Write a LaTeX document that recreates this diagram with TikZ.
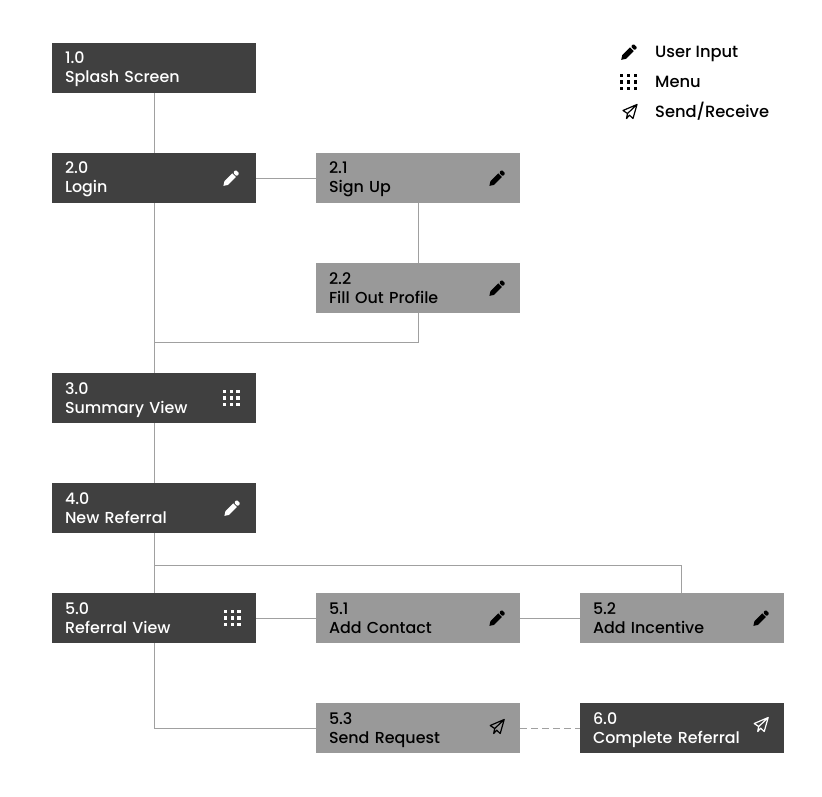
\documentclass[tikz,border=0pt]{standalone}
\usepackage{fontspec}
\setmainfont{Poppins}[UprightFont=*-Medium]
\definecolor{boxdark}{HTML}{404040}
\definecolor{boxlight}{HTML}{999999}
\definecolor{linkgray}{HTML}{A0A0A0}
\tikzset{
  screen/.style={minimum width=204pt,minimum height=50pt,inner xsep=13pt,inner ysep=0pt,
    text width=178pt,align=left,font=\fontsize{15.9}{19}\selectfont,
    execute at begin node={\rule{0pt}{16pt}},
    execute at end node={\rule[-5pt]{0pt}{5pt}}},
  darkscreen/.style={screen,fill=boxdark,text=white},
  lightscreen/.style={screen,fill=boxlight,text=black},
  link/.style={draw=linkgray,line width=0.9pt},
  legendtext/.style={anchor=base west,inner sep=0pt,font=\fontsize{16.3}{18}\selectfont},
  pics/penicon/.style={code={
    \begin{scope}[shift={(-0.7,0.8)},rotate=45]
    \fill[pic actions] (-10,0) -- (-6,-2.6) -- (5,-2.6) -- (5,2.6) -- (-6,2.6) -- cycle;
    \fill[pic actions,rounded corners=1pt] (6.2,-2.6) -- (10,-2.6) -- (10,2.6) -- (6.2,2.6) -- cycle;
    \end{scope}}},
  pics/menuicon/.style={code={
    \foreach \i in {-1,0,1}
      \foreach \j in {-1,0,1}
        \fill[pic actions] (\i*6.7-1.6,\j*6.7-1.6) rectangle ++(3.2,3.2);}},
  pics/planeicon/.style={code={
    \draw[pic actions,line width=1.2pt,line join=round]
      (7,-7.5) -- (-7,-1.5) -- (-2.5,1.5) -- (7,-7.5) -- (3,6.5) -- (-0.5,3.2) -- (-3.5,6.5) -- (-2.5,1.5);}}
}
\begin{document}
\begin{tikzpicture}[x=1pt,y=-1pt]
\useasboundingbox (0,0) rectangle (822,797);

\node[darkscreen] (n10) at (154,68) {1.0\\Splash Screen};
\node[darkscreen] (n20) at (154,178) {2.0\\Login};
\node[lightscreen] (n21) at (418,178) {2.1\\Sign Up};
\node[lightscreen] (n22) at (418,288) {2.2\\Fill Out Profile};
\node[darkscreen] (n30) at (154,398) {3.0\\Summary View};
\node[darkscreen] (n40) at (154,508) {4.0\\New Referral};
\node[darkscreen] (n50) at (154,618) {5.0\\Referral View};
\node[lightscreen] (n51) at (418,618) {5.1\\Add Contact};
\node[lightscreen] (n52) at (682,618) {5.2\\Add Incentive};
\node[lightscreen] (n53) at (418,728) {5.3\\Send Request};
\node[darkscreen] (n60) at (682,728) {6.0\\Complete Referral};

\coordinate (join22) at (154,342);
\coordinate (join40) at (154,565.5);

\draw[link] (n10) -- (n20);
\draw[link] (n20) -- (n21);
\draw[link] (n21) -- (n22);
\draw[link] (n20) -- (n30);
\draw[link] (n22.south) |- (join22);
\draw[link] (n30) -- (n40);
\draw[link] (n40) -- (n50);
\draw[link] (join40) -| ([xshift=-0.5pt]n52.north);
\draw[link] (n50) -- (n51);
\draw[link] (n51) -- (n52);
\draw[link] (n50.south) |- (n53.west);
\draw[link,dashed,dash pattern=on 7pt off 4pt] (n53) -- (n60);

\pic[fill=white] at ([xshift=-25pt]n20.east) {penicon};
\pic[fill=black] at ([xshift=-23pt]n21.east) {penicon};
\pic[fill=black] at ([xshift=-23pt]n22.east) {penicon};
\pic[fill=white] at ([xshift=-25pt]n30.east) {menuicon};
\pic[fill=white] at ([xshift=-24pt]n40.east) {penicon};
\pic[fill=white] at ([xshift=-24pt]n50.east) {menuicon};
\pic[fill=black] at ([xshift=-23pt]n51.east) {penicon};
\pic[fill=black] at ([xshift=-23pt]n52.east) {penicon};
\pic[draw=black] at ([xshift=-23pt,yshift=1pt]n53.east) {planeicon};
\pic[draw=white] at ([xshift=-23pt,yshift=3pt]n60.east) {planeicon};

\pic[fill=black] at (629,52) {penicon};
\pic[fill=black] at (628.5,82) {menuicon};
\pic[draw=black] at (630,112) {planeicon};
\node[legendtext] (keyinput) at (655,57.5) {User Input};
\node[legendtext] (keymenu) at (655,87.5) {Menu};
\node[legendtext] (keysend) at (655,117.5) {Send/Receive};
\end{tikzpicture}
\end{document}
